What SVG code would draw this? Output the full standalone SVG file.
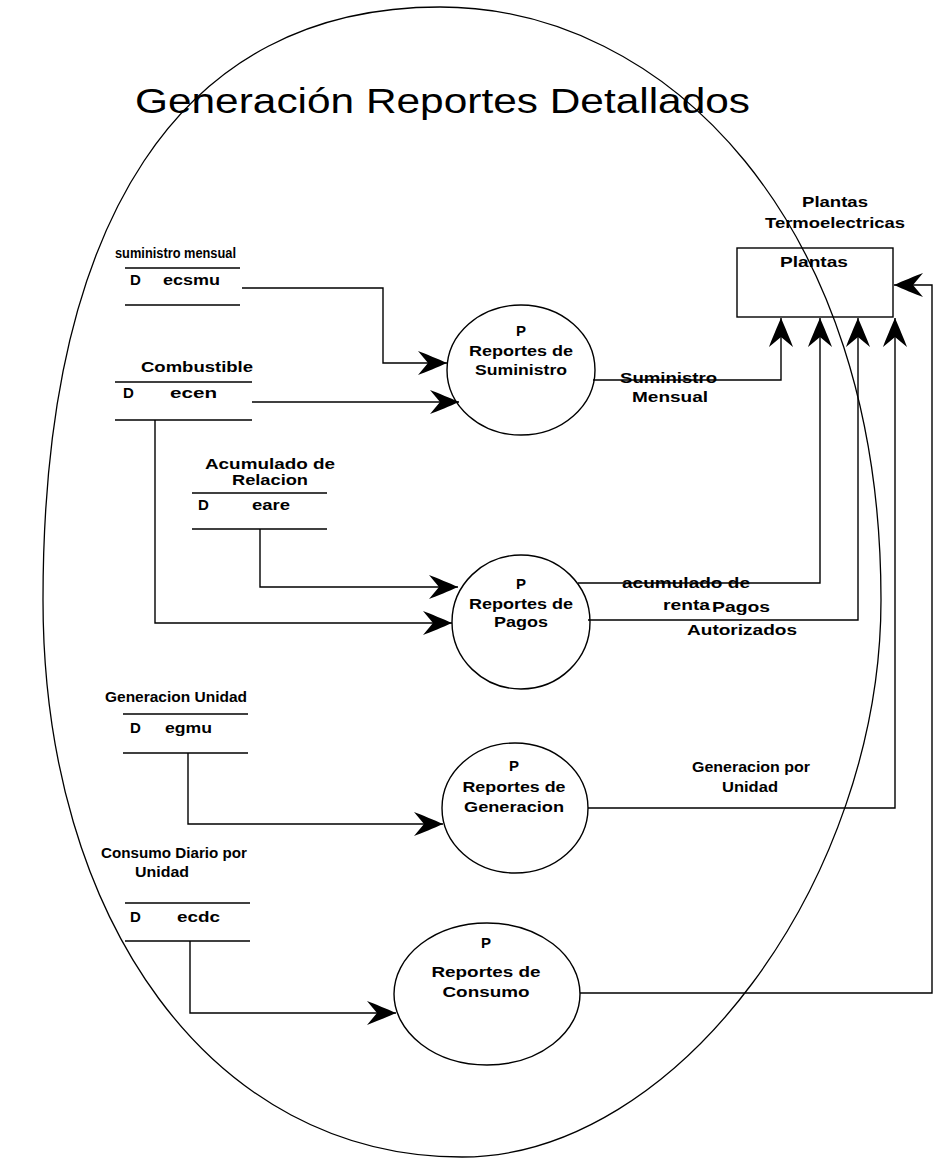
<svg xmlns="http://www.w3.org/2000/svg" width="938" height="1159" viewBox="0 0 938 1159">
<style>
text{font-family:"Liberation Sans",Arial,sans-serif;fill:#000}
.t{font-size:15px;font-weight:bold}
.s{font-size:14px;font-weight:bold}
.m{text-anchor:middle}
.title{font-size:35px}
.ln{fill:none;stroke:#000;stroke-width:1.4}
.bd{fill:none;stroke:#000;stroke-width:1.3}
</style>
<defs>
<marker id="ah" markerUnits="userSpaceOnUse" viewBox="-31 -14 33 28" markerWidth="33" markerHeight="28" refX="0" refY="0" orient="auto">
<path d="M0,0 C-9,-4 -21,-9 -29,-12 L-19,0 L-29,12 C-21,9 -9,4 0,0 Z" fill="#000"/>
</marker>
</defs>
<rect width="938" height="1159" fill="#fff"/>
<g id="boundary">
<path d="M440,7 C665,7 881,220 881,600 C881,880 677,1157 462,1157 C212,1157 43,920 43,600 C43,220 180,7 440,7 Z" class="bd"/>
</g>
<text class="title" x="135" y="113" textLength="615" lengthAdjust="spacingAndGlyphs">Generación  Reportes Detallados</text>

<g id="plantas">
<text class="t" x="802" y="207" textLength="66" lengthAdjust="spacingAndGlyphs">Plantas</text>
<text class="t" x="765" y="228" textLength="140" lengthAdjust="spacingAndGlyphs">Termoelectricas</text>
<rect x="737" y="248" width="156" height="69" class="ln"/>
<text class="t" x="780" y="267" textLength="68" lengthAdjust="spacingAndGlyphs">Plantas</text>
</g>

<g id="ecsmu">
<text class="s" x="115" y="258" textLength="121" lengthAdjust="spacingAndGlyphs">suministro mensual</text>
<line x1="125" y1="268" x2="240" y2="268" class="ln"/>
<text class="t" x="130" y="285">D</text>
<text class="t" x="163" y="285" textLength="57" lengthAdjust="spacingAndGlyphs">ecsmu</text>
<line x1="125" y1="305" x2="240" y2="305" class="ln"/>
</g>

<g id="ecen">
<text class="t" x="141" y="372" textLength="112" lengthAdjust="spacingAndGlyphs">Combustible</text>
<line x1="115" y1="382" x2="252" y2="382" class="ln"/>
<text class="t" x="123" y="398">D</text>
<text class="t" x="170" y="398" textLength="47" lengthAdjust="spacingAndGlyphs">ecen</text>
<line x1="115" y1="420" x2="252" y2="420" class="ln"/>
</g>

<g id="eare">
<text class="t" x="205" y="469" textLength="130" lengthAdjust="spacingAndGlyphs">Acumulado de</text>
<text class="t" x="232" y="485" textLength="76" lengthAdjust="spacingAndGlyphs">Relacion</text>
<line x1="192" y1="493" x2="327" y2="493" class="ln"/>
<text class="t" x="198" y="510">D</text>
<text class="t" x="252" y="510" textLength="38" lengthAdjust="spacingAndGlyphs">eare</text>
<line x1="192" y1="529" x2="327" y2="529" class="ln"/>
</g>

<g id="egmu">
<text class="t" x="105" y="702" textLength="142" lengthAdjust="spacingAndGlyphs">Generacion Unidad</text>
<line x1="123" y1="714" x2="248" y2="714" class="ln"/>
<text class="t" x="130" y="733">D</text>
<text class="t" x="165" y="733" textLength="47" lengthAdjust="spacingAndGlyphs">egmu</text>
<line x1="123" y1="753" x2="248" y2="753" class="ln"/>
</g>

<g id="ecdc">
<text class="t" x="101" y="858" textLength="146" lengthAdjust="spacingAndGlyphs">Consumo Diario por</text>
<text class="t" x="135" y="877" textLength="54" lengthAdjust="spacingAndGlyphs">Unidad</text>
<line x1="125" y1="903" x2="250" y2="903" class="ln"/>
<text class="t" x="130" y="922">D</text>
<text class="t" x="177" y="922" textLength="43" lengthAdjust="spacingAndGlyphs">ecdc</text>
<line x1="125" y1="941" x2="250" y2="941" class="ln"/>
</g>

<g id="p-suministro">
<ellipse cx="521" cy="370" rx="74" ry="65" class="ln"/>
<text class="t m" x="521" y="336">P</text>
<text class="t m" x="521" y="356" textLength="104" lengthAdjust="spacingAndGlyphs">Reportes de</text>
<text class="t m" x="521" y="375" textLength="92" lengthAdjust="spacingAndGlyphs">Suministro</text>
</g>

<g id="p-pagos">
<ellipse cx="521" cy="622" rx="69" ry="67" class="ln"/>
<text class="t m" x="521" y="589">P</text>
<text class="t m" x="521" y="609" textLength="104" lengthAdjust="spacingAndGlyphs">Reportes de</text>
<text class="t m" x="521" y="627" textLength="54" lengthAdjust="spacingAndGlyphs">Pagos</text>
</g>

<g id="p-generacion">
<ellipse cx="515" cy="808" rx="73" ry="65" class="ln"/>
<text class="t m" x="514" y="771">P</text>
<text class="t m" x="514" y="792" textLength="103" lengthAdjust="spacingAndGlyphs">Reportes de</text>
<text class="t m" x="514" y="812" textLength="100" lengthAdjust="spacingAndGlyphs">Generacion</text>
</g>

<g id="p-consumo">
<ellipse cx="487" cy="994" rx="93" ry="71" class="ln"/>
<text class="t m" x="486" y="948">P</text>
<text class="t m" x="486" y="977" textLength="109" lengthAdjust="spacingAndGlyphs">Reportes de</text>
<text class="t m" x="486" y="997" textLength="87" lengthAdjust="spacingAndGlyphs">Consumo</text>
</g>

<g id="connectors">
<path d="M242,288 H383 V363 H447" class="ln" marker-end="url(#ah)"/>
<path d="M252,402 H459" class="ln" marker-end="url(#ah)"/>
<path d="M260,529 V587 H458" class="ln" marker-end="url(#ah)"/>
<path d="M155,420 V623 H452" class="ln" marker-end="url(#ah)"/>
<path d="M188,753 V824 H443" class="ln" marker-end="url(#ah)"/>
<path d="M190,941 V1013 H396" class="ln" marker-end="url(#ah)"/>
<path d="M593,380 H781 V318" class="ln" marker-end="url(#ah)"/>
<path d="M578,583 H820 V318" class="ln" marker-end="url(#ah)"/>
<path d="M588,620 H858 V318" class="ln" marker-end="url(#ah)"/>
<path d="M588,808 H895 V318" class="ln" marker-end="url(#ah)"/>
<path d="M580,993 H932 V285 H894" class="ln" marker-end="url(#ah)"/>
<text class="t" x="620" y="383" textLength="97" lengthAdjust="spacingAndGlyphs">Suministro</text>
<text class="t" x="632" y="402" textLength="76" lengthAdjust="spacingAndGlyphs">Mensual</text>
<text class="t" x="622" y="588" textLength="128" lengthAdjust="spacingAndGlyphs">acumulado de</text>
<text class="t" x="663" y="610" textLength="47" lengthAdjust="spacingAndGlyphs">renta</text>
<text class="t" x="712" y="612" textLength="58" lengthAdjust="spacingAndGlyphs">Pagos</text>
<text class="t" x="687" y="635" textLength="110" lengthAdjust="spacingAndGlyphs">Autorizados</text>
<text class="t" x="692" y="772" textLength="118" lengthAdjust="spacingAndGlyphs">Generacion por</text>
<text class="t" x="722" y="792" textLength="56" lengthAdjust="spacingAndGlyphs">Unidad</text>
</g>
</svg>
